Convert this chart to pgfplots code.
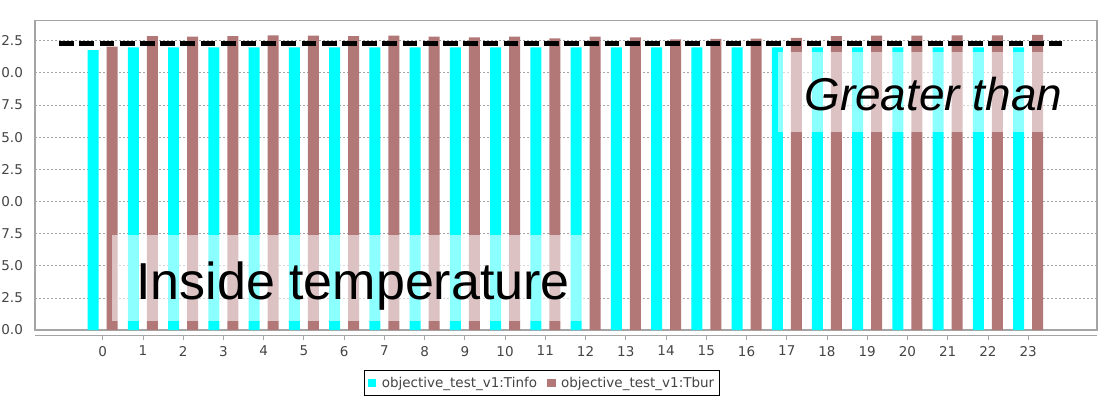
\documentclass[border=0pt]{standalone}
\usepackage{pgfplots}
\pgfplotsset{compat=1.18}
\usepackage{fontspec}
\setmainfont{DejaVu Sans}
\newfontfamily\arial{Liberation Sans}
\definecolor{tinfo}{RGB}{0,255,255}
\definecolor{tbur}{RGB}{178,120,120}
\definecolor{axgray}{RGB}{165,165,165}
\definecolor{gridgray}{RGB}{165,165,165}
\definecolor{lblgray}{RGB}{68,68,68}
\begin{document}
\begin{tikzpicture}
\path[use as bounding box] (0,0) rectangle (1111pt,405pt);
\begin{axis}[name=ax, at={(35pt,75pt)}, anchor=south west, scale only axis,
  width=1062pt, height=309.3pt,
  xmin=-1.682, xmax=24.71, ymin=0, ymax=24.05,
  axis line style={axgray, line width=1.2pt},
  xtick={0,1,2,3,4,5,6,7,8,9,10,11,12,13,14,15,16,17,18,19,20,21,22,23},
  xticklabels={0,1,2,3,4,5,6,7,8,9,10,11,12,13,14,15,16,17,18,19,20,21,22,23},
  ytick={0,2.5,5,7.5,10,12.5,15,17.5,20,22.5},
  yticklabels={0.0,2.5,5.0,7.5,0.0,2.5,5.0,7.5,0.0,2.5},
  xtick pos=bottom, ytick pos=left,
  tick align=outside, major tick length=4pt,
  xtick style={axgray, line width=0.8pt, yshift=-5.7pt},
  ytick style={draw=none},
  ymajorgrids, grid style={gridgray, dash pattern=on 2pt off 2pt, line width=0.7pt},
  tick label style={font=\fontsize{13.5}{15}\selectfont, text=lblgray},
  yticklabel style={xshift=-4.6pt},
  xticklabel style={yshift=-8.5pt},
  legend columns=2,
  legend style={at={(0.4774,-0.171)}, anchor=center, draw=black, line width=0.8pt,
    font=\fontsize{13.5}{15}\selectfont, text=lblgray, inner xsep=3pt, inner ysep=4.5pt,
    /tikz/every even column/.append style={column sep=8pt}},
  legend cell align=left,
]
\addplot[ybar, bar width=11pt, bar shift=-9.5pt, fill=tinfo, draw=none,
  legend image code/.code={\fill[tinfo] (0pt,-4.3pt) rectangle (8.6pt,4.3pt); \path (12pt,0pt);}]
  coordinates {(0,21.77) (1,21.97) (2,21.97) (3,21.97) (4,21.97) (5,21.97) (6,21.97) (7,21.97)
  (8,21.97) (9,21.97) (10,21.97) (11,21.97) (12,21.97) (13,21.97) (14,21.97) (15,21.97)
  (16,21.97) (17,21.97) (18,21.97) (19,21.97) (20,21.97) (21,21.97) (22,21.97) (23,21.97)};
\addlegendentry{objective\_test\_v1:Tinfo}
\addplot[ybar, bar width=11pt, bar shift=9.5pt, fill=tbur, draw=none,
  legend image code/.code={\fill[tbur] (0pt,-4.3pt) rectangle (8.6pt,4.3pt); \path (12pt,0pt);}]
  coordinates {(0,22.03) (1,22.86) (2,22.81) (3,22.86) (4,22.91) (5,22.89) (6,22.86) (7,22.89)
  (8,22.81) (9,22.76) (10,22.81) (11,22.68) (12,22.81) (13,22.76) (14,22.60) (15,22.63)
  (16,22.65) (17,22.71) (18,22.86) (19,22.89) (20,22.89) (21,22.91) (22,22.91) (23,22.94)};
\addlegendentry{objective\_test\_v1:Tbur}
\addplot[forget plot, black, line width=5pt, dash pattern=on 14.7pt off 5.5pt]
  coordinates {(-1.08,22.24) (23.83,22.24)};
\fill[white, opacity=0.55] (axis cs:0.224,0.68) rectangle (axis cs:12.06,7.38);
\fill[white, opacity=0.55] (axis cs:16.79,15.42) rectangle (axis cs:23.39,21.58);
\node[anchor=base west, inner sep=0, font=\arial\fontsize{52}{60}\selectfont]
  at (axis cs:0.83,2.4) {Inside temperature};
\node[anchor=base west, inner sep=0, font=\arial\itshape\fontsize{46}{54}\selectfont]
  at (axis cs:17.43,17.1) {Greater than};
\end{axis}
\draw[axgray, line width=1.2pt] ([yshift=-5.7pt]ax.south west) -- ([yshift=-5.7pt]ax.south east);
\end{tikzpicture}
\end{document}
